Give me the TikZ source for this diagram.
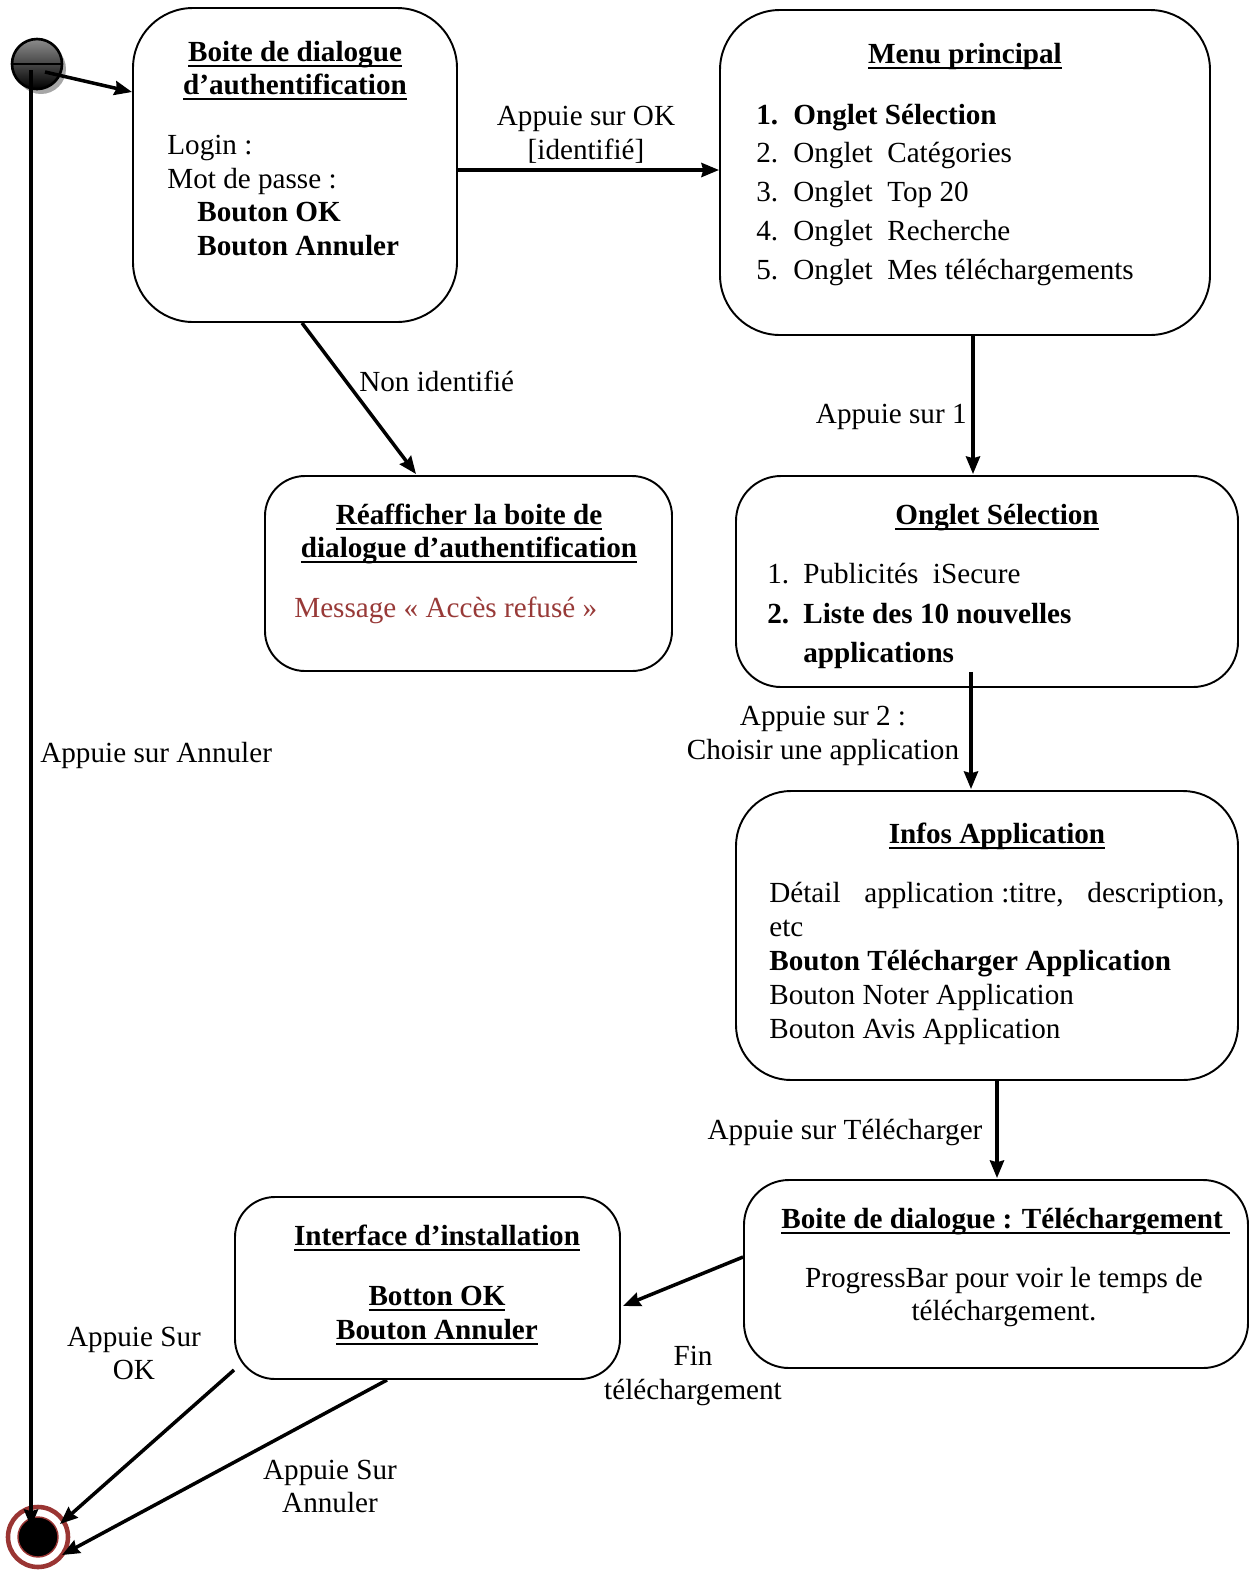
\documentclass[tikz,border=0pt]{standalone}
\usepackage{fontspec}
\setmainfont{Liberation Serif}
\usetikzlibrary{arrows.meta,calc}
\newcommand\pxu{0.02cm}
% underlined text with a thicker rule
\newcommand\ulbox[1]{\setbox0=\hbox{#1}\rlap{\rule[-3.2pt]{\wd0}{1.1pt}}\box0}
\definecolor{ringred}{HTML}{9A3533}
\definecolor{msgred}{HTML}{983A38}
\tikzset{
  txt/.style={font=\fontsize{16.6}{19.5}\selectfont, inner sep=0pt, yshift=-0.05cm},
  btxt/.style={font=\fontsize{16.6}{19.5}\selectfont\bfseries, inner sep=0pt, yshift=-0.05cm},
  statebox/.style={draw, line width=1.1pt, inner sep=0pt},
  arr/.style={line width=2pt, -{Stealth[length=10pt,width=8pt,inset=1pt]}},
}
\begin{document}
\begin{tikzpicture}[x=0.02cm, y=-0.02cm]
\useasboundingbox (0,0) rectangle (1249,1573);

% ---------- states ----------
\node[statebox, minimum width=324*\pxu, minimum height=314*\pxu, rounded corners=1.2cm] (auth) at (295,165) {};
\node[statebox, minimum width=490*\pxu, minimum height=325*\pxu, rounded corners=1.2cm] (menu) at (965,172.5) {};
\node[statebox, minimum width=407*\pxu, minimum height=195*\pxu, rounded corners=0.8cm] (reaff) at (468.5,573.5) {};
\node[statebox, minimum width=502*\pxu, minimum height=211*\pxu, rounded corners=0.9cm] (sel) at (987,581.5) {};
\node[statebox, minimum width=502*\pxu, minimum height=289*\pxu, rounded corners=1.1cm] (infos) at (987,935.5) {};
\node[statebox, minimum width=504*\pxu, minimum height=188*\pxu, rounded corners=0.9cm] (tel) at (996,1274) {};
\node[statebox, minimum width=385*\pxu, minimum height=182*\pxu, rounded corners=0.8cm] (inter) at (427.5,1288) {};

% ---------- initial and final pseudo-states ----------
\fill[gray!70] (41,69) circle[radius=25];
\node[circle, draw, line width=1.5pt, minimum size=50*\pxu, inner sep=0pt,
      top color=gray!90, bottom color=black] (init) at (37,64) {};
\draw[line width=1pt] (init.west) -- (init.east);

\node[circle, draw=ringred, line width=2.6pt, minimum size=60*\pxu, inner sep=0pt] (final) at (38,1537) {};
\fill[black, draw=ringred, line width=0.8pt] (final.center) circle[radius=20];

% ---------- texts in the states ----------
% authentication dialog
\node[btxt, anchor=base] (authT1) at (295,59) {\ulbox{Boite de dialogue}};
\node[btxt, anchor=base] (authT2) at (295,92) {\ulbox{d’authentification}};
\node[txt, anchor=base west] (authL1) at (167,152) {Login :};
\node[txt, anchor=base west] (authL2) at (167,186) {Mot de passe :};
\node[btxt, anchor=base west] (authL3) at (197,219) {Bouton OK};
\node[btxt, anchor=base west] (authL4) at (197,253) {Bouton Annuler};

% main menu
\node[btxt, anchor=base] (menuT) at (965,61) {\ulbox{Menu principal}};
\node[btxt, anchor=base west] (menuN1) at (756,122) {1.};
\node[btxt, anchor=base west] (menuI1) at (793,122) {Onglet Sélection};
\node[txt, anchor=base west] (menuN2) at (756,160) {2.};
\node[txt, anchor=base west] (menuI2) at (793,160) {Onglet\ \ Catégories};
\node[txt, anchor=base west] (menuN3) at (756,199) {3.};
\node[txt, anchor=base west] (menuI3) at (793,199) {Onglet\ \ Top 20};
\node[txt, anchor=base west] (menuN4) at (756,238) {4.};
\node[txt, anchor=base west] (menuI4) at (793,238) {Onglet\ \ Recherche};
\node[txt, anchor=base west] (menuN5) at (756,277) {5.};
\node[txt, anchor=base west] (menuI5) at (793,277) {Onglet\ \ Mes téléchargements};

% redisplay dialog
\node[btxt, anchor=base] (reaffT1) at (469,522) {\ulbox{Réafficher la boite de}};
\node[btxt, anchor=base] (reaffT2) at (469,555) {\ulbox{dialogue d’authentification}};
\node[txt, anchor=base west, text=msgred] (reaffM) at (294,615) {Message « Accès refusé »};

% selection tab
\node[btxt, anchor=base] (selT) at (997,522) {\ulbox{Onglet Sélection}};
\node[txt, anchor=base west] (selN1) at (767,581) {1.};
\node[txt, anchor=base west] (selI1) at (803,581) {Publicités\ \ iSecure};
\node[btxt, anchor=base west] (selN2) at (767,621) {2.};
\node[btxt, anchor=base west] (selI2) at (803,621) {Liste des 10 nouvelles};
\node[btxt, anchor=base west] (selI2b) at (803,660) {applications};

% application details
\node[btxt, anchor=base] (infosT) at (997,841) {\ulbox{Infos Application}};
\node[txt, anchor=base west] (infosL1) at (769,900) {\makebox[9.1cm][s]{Détail \mbox{application :titre,} description,}};
\node[txt, anchor=base west] (infosL2) at (769,934) {etc};
\node[btxt, anchor=base west] (infosL3) at (769,968) {Bouton Télécharger Application};
\node[txt, anchor=base west] (infosL4) at (769,1002) {Bouton Noter Application};
\node[txt, anchor=base west] (infosL5) at (769,1036) {Bouton Avis Application};

% download dialog
\node[btxt, anchor=base west] (telT) at (781,1226) {\ulbox{Boite de dialogue : Téléchargement\ }};
\node[txt, anchor=base] (telL1) at (1004,1285) {ProgressBar pour voir le temps de};
\node[txt, anchor=base] (telL2) at (1004,1318) {téléchargement.};

% installation interface
\node[btxt, anchor=base] (interT) at (437,1243) {\ulbox{Interface d’installation}};
\node[btxt, anchor=base] (interL1) at (437,1303) {\ulbox{Botton OK}};
\node[btxt, anchor=base] (interL2) at (437,1337) {\ulbox{Bouton Annuler}};

% ---------- transitions ----------
\draw[arr] ($(init.center)+(8,8)$) -- ($(auth.west)+(0,-73)$);
\draw[arr] ($(init.center)+(-6,6)$) -- ($(final.center)+(-7,-10)$);
\draw[arr] ($(auth.east)+(0,5)$) -- ($(menu.west)+(0,-2.5)$);
\draw[arr] ($(auth.south)+(7,0)$) -- ($(reaff.north)+(-52.5,-1)$);
\draw[arr] ($(menu.south)+(8,0)$) -- ($(sel.north)+(-14,-1)$);
\draw[arr] ($(sel.south)+(-16,-16)$) -- ($(infos.north)+(-16,-1)$);
\draw[arr] ($(infos.south)+(10,0)$) -- ($(tel.north)+(1,-1)$);
\draw[arr] ($(tel.west)+(0,-17)$) -- ($(inter.east)+(2,18)$);
\draw[arr] ($(inter.south west)+(0,-10)$) -- ($(final.center)+(22,-13)$);
\draw[arr] ($(inter.south)+(-40.5,0)$) -- ($(final.center)+(24,18)$);

% ---------- transition labels ----------
\node[txt, anchor=base] (lOK1) at (586,123) {Appuie sur OK};
\node[txt, anchor=base] (lOK2) at (586,157) {[identifié]};
\node[txt, anchor=base west] (lNon) at (359,389) {Non identifié};
\node[txt, anchor=base east] (lSur1) at (967,421) {Appuie sur 1};
\node[txt, anchor=base] (lSur2a) at (823,723) {Appuie sur 2 :};
\node[txt, anchor=base] (lSur2b) at (823,757) {Choisir une application};
\node[txt, anchor=base] (lTel) at (845,1137) {Appuie sur Télécharger};
\node[txt, anchor=base west] (lAnn) at (40,760) {Appuie sur Annuler};
\node[txt, anchor=base] (lFin1) at (693,1363) {Fin};
\node[txt, anchor=base] (lFin2) at (693,1397) {téléchargement};
\node[txt, anchor=base] (lSOK1) at (134,1344) {Appuie Sur};
\node[txt, anchor=base] (lSOK2) at (134,1377) {OK};
\node[txt, anchor=base] (lSAn1) at (330,1477) {Appuie Sur};
\node[txt, anchor=base] (lSAn2) at (330,1510) {Annuler};
\end{tikzpicture}
\end{document}
